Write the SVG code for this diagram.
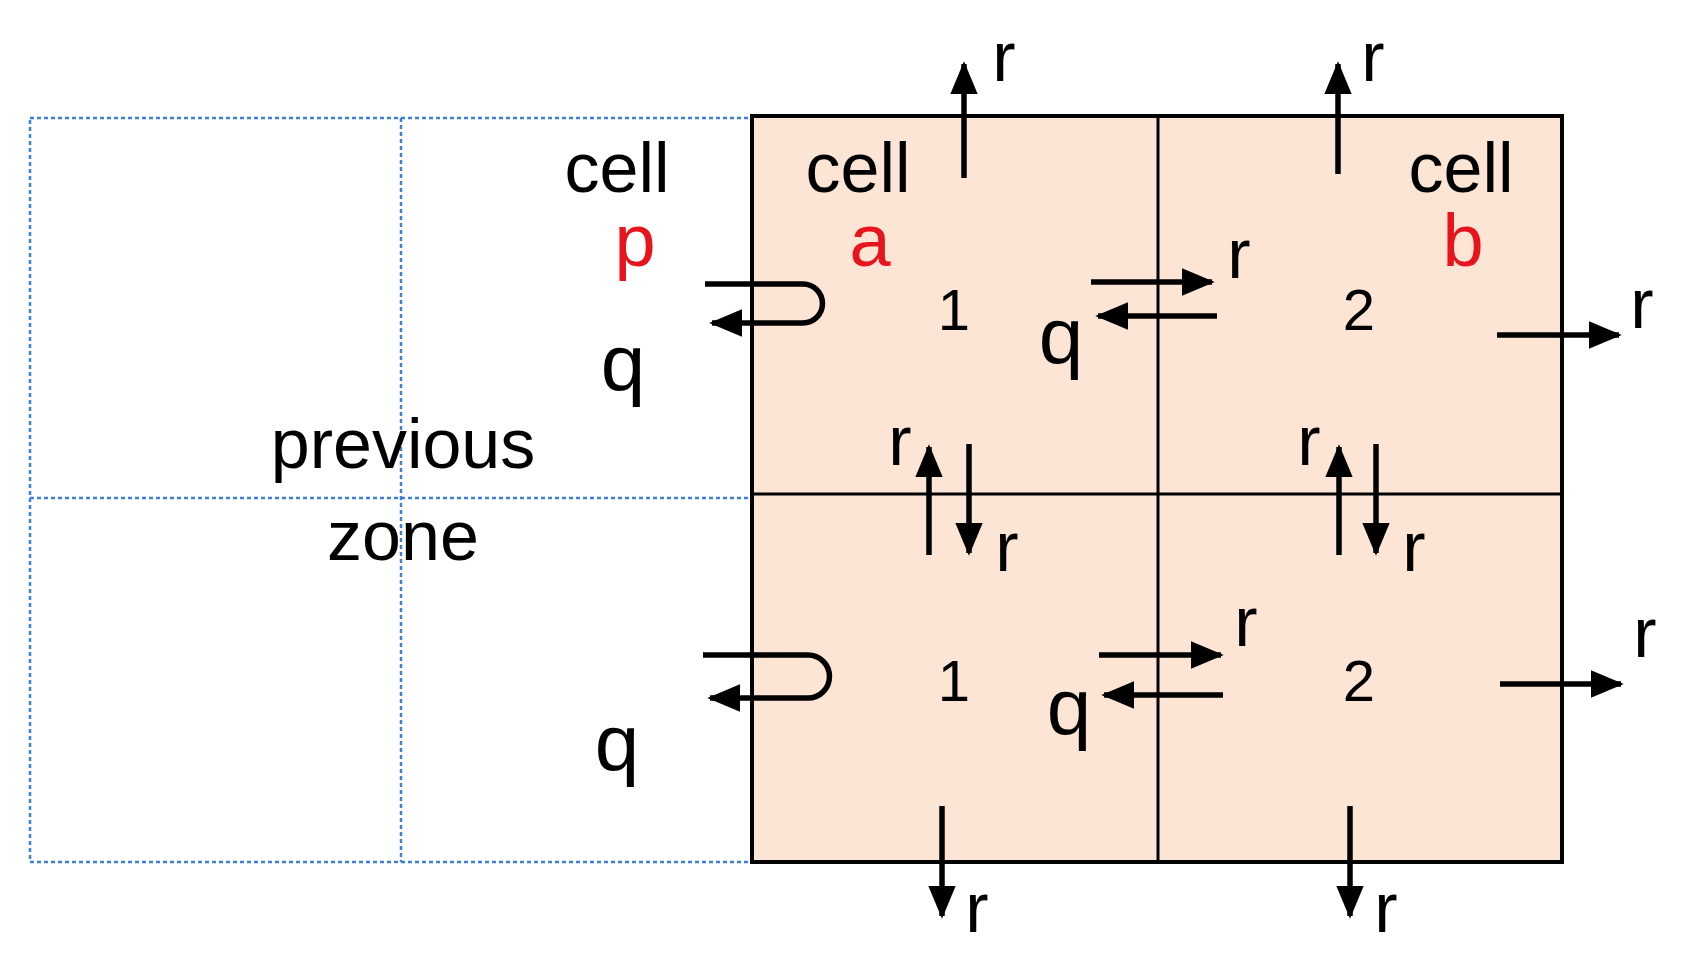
<svg xmlns="http://www.w3.org/2000/svg" width="1688" height="976" viewBox="0 0 1688 976">
<style>
text{font-family:"Liberation Sans",Arial,sans-serif;fill:#000}
.big{font-size:70px}
.q{font-size:80px}
.red{fill:#e8141c;font-size:74px}
.num{font-size:58px}
.r{font-size:70px}
.ln{stroke:#000;stroke-width:5.5;fill:none}
.dash{stroke:#3f7fd6;stroke-width:2.5;stroke-dasharray:4 3;fill:none}
</style>
<defs>
<marker id="ah" markerWidth="6" markerHeight="5" refX="5.5" refY="2.5" orient="auto" markerUnits="strokeWidth">
<path d="M0,0 L6,2.5 L0,5 Z" fill="#000"/>
</marker>
</defs>
<rect width="1688" height="976" fill="#fff"/>
<g id="previous-zone">
<rect class="dash" x="30" y="118" width="722" height="744"/>
<line class="dash" x1="401" y1="118" x2="401" y2="862"/>
<line class="dash" x1="30" y1="498" x2="752" y2="498"/>
<text class="big" x="403" y="468" text-anchor="middle">previous</text>
<text class="big" x="403" y="560" text-anchor="middle">zone</text>
</g>
<g id="cells">
<rect x="752" y="116" width="810" height="746" fill="#fde5d6" stroke="#000" stroke-width="4"/>
<line x1="1158" y1="116" x2="1158" y2="862" stroke="#000" stroke-width="3"/>
<line x1="752" y1="494" x2="1562" y2="494" stroke="#000" stroke-width="3"/>
</g>
<g id="labels">
<text class="big" x="617" y="192" text-anchor="middle">cell</text>
<text class="red" x="635" y="266" text-anchor="middle">p</text>
<text class="big" x="858" y="192" text-anchor="middle">cell</text>
<text class="red" x="870" y="266" text-anchor="middle">a</text>
<text class="big" x="1461" y="192" text-anchor="middle">cell</text>
<text class="red" x="1463" y="266" text-anchor="middle">b</text>
<text class="num" x="954" y="330" text-anchor="middle">1</text>
<text class="num" x="1359" y="330" text-anchor="middle">2</text>
<text class="num" x="954" y="701" text-anchor="middle">1</text>
<text class="num" x="1359" y="701" text-anchor="middle">2</text>
<text class="q" x="623" y="390" text-anchor="middle">q</text>
<text class="q" x="1061" y="363" text-anchor="middle">q</text>
<text class="q" x="617" y="770" text-anchor="middle">q</text>
<text class="q" x="1069" y="734" text-anchor="middle">q</text>
<text class="r" x="1004" y="81" text-anchor="middle">r</text>
<text class="r" x="1373" y="81" text-anchor="middle">r</text>
<text class="r" x="1642" y="328" text-anchor="middle">r</text>
<text class="r" x="1645" y="657" text-anchor="middle">r</text>
<text class="r" x="977" y="932" text-anchor="middle">r</text>
<text class="r" x="1386" y="932" text-anchor="middle">r</text>
<text class="r" x="900" y="465" text-anchor="middle">r</text>
<text class="r" x="1007" y="571" text-anchor="middle">r</text>
<text class="r" x="1309" y="465" text-anchor="middle">r</text>
<text class="r" x="1414" y="571" text-anchor="middle">r</text>
<text class="r" x="1239" y="278" text-anchor="middle">r</text>
<text class="r" x="1246" y="646" text-anchor="middle">r</text>
</g>
<g id="connectors">
<line class="ln" x1="964" y1="178" x2="964" y2="64" marker-end="url(#ah)"/>
<line class="ln" x1="1338" y1="174" x2="1338" y2="64" marker-end="url(#ah)"/>
<line class="ln" x1="1497" y1="335" x2="1619" y2="335" marker-end="url(#ah)"/>
<line class="ln" x1="1500" y1="684" x2="1621" y2="684" marker-end="url(#ah)"/>
<line class="ln" x1="942" y1="806" x2="942" y2="916" marker-end="url(#ah)"/>
<line class="ln" x1="1350" y1="806" x2="1350" y2="916" marker-end="url(#ah)"/>
<line class="ln" x1="929" y1="555" x2="929" y2="447" marker-end="url(#ah)"/>
<line class="ln" x1="969" y1="444" x2="969" y2="553" marker-end="url(#ah)"/>
<line class="ln" x1="1339" y1="555" x2="1339" y2="447" marker-end="url(#ah)"/>
<line class="ln" x1="1376" y1="444" x2="1376" y2="553" marker-end="url(#ah)"/>
<line class="ln" x1="1091" y1="282" x2="1212" y2="282" marker-end="url(#ah)"/>
<line class="ln" x1="1217" y1="316" x2="1098" y2="316" marker-end="url(#ah)"/>
<line class="ln" x1="1099" y1="655" x2="1221" y2="655" marker-end="url(#ah)"/>
<line class="ln" x1="1223" y1="695" x2="1104" y2="695" marker-end="url(#ah)"/>
<path class="ln" d="M705,284 H803 A19.5,19.5 0 0 1 803,323 H712" marker-end="url(#ah)"/>
<path class="ln" d="M703,655 H808 A21.5,21.5 0 0 1 808,698 H710" marker-end="url(#ah)"/>
</g>
</svg>
